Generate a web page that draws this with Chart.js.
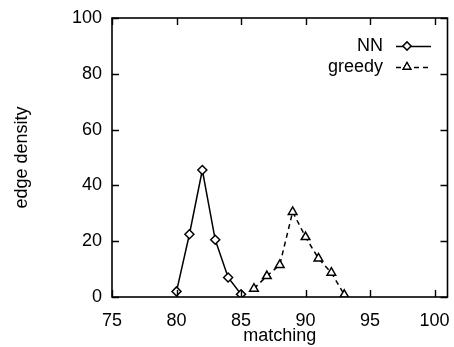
<!DOCTYPE html>
<html>
<head>
<meta charset="utf-8">
<script src="https://cdn.jsdelivr.net/npm/chart.js@4/dist/chart.umd.min.js"></script>
<style>
    html, body { margin: 0; padding: 0; background: #fff; }
    #wrap { width: 454px; height: 347px; }
</style>
</head>
<body>
<div id="wrap"><canvas id="chartMain"></canvas></div>
<script>
const nnX = [80, 81, 82, 83, 84, 85];
const nnY = [2, 22.5, 45.5, 20.5, 7, 1];
const greedyX = [86, 87, 88, 89, 90, 91, 92, 93];
const greedyY = [3, 7.5, 11.5, 30.5, 21.5, 13.8, 8.7, 0.8];
const xTicks = [75, 80, 85, 90, 95, 100];
const yTicks = [0, 20, 40, 60, 80, 100];

const FONT = 'Liberation Sans, Arial, Helvetica, sans-serif';

// gnuplot style frame with inward ticks on all four sides
const framePlugin = {
    id: 'frame',
    afterDatasetsDraw(chart) {
        const { ctx, chartArea: a, scales: { x, y } } = chart;
        ctx.save();
        ctx.strokeStyle = '#000';
        ctx.lineWidth = 1.6;
        ctx.strokeRect(a.left, a.top, a.right - a.left, a.bottom - a.top);
        ctx.lineWidth = 1.4;
        ctx.beginPath();
        const len = 7;
        xTicks.forEach(v => {
            const px = Math.round(x.getPixelForValue(v)) + 0.5;
            ctx.moveTo(px, a.bottom); ctx.lineTo(px, a.bottom - len);
            ctx.moveTo(px, a.top); ctx.lineTo(px, a.top + len);
        });
        yTicks.forEach(v => {
            const py = Math.round(y.getPixelForValue(v)) + 0.5;
            ctx.moveTo(a.left, py); ctx.lineTo(a.left + len, py);
            ctx.moveTo(a.right, py); ctx.lineTo(a.right - len, py);
        });
        ctx.stroke();
        ctx.restore();
    }
};

// legend: label text on the left, line sample with marker on the right
const keyPlugin = {
    id: 'key',
    afterDraw(chart) {
        const { ctx } = chart;
        const rows = [{ y: 46 }, { y: 67 }];
        ctx.save();
        chart.data.datasets.forEach((ds, i) => {
            const ry = rows[i].y;
            ctx.font = '18px ' + FONT;
            ctx.fillStyle = '#000';
            ctx.textAlign = 'right';
            ctx.textBaseline = 'middle';
            ctx.fillText(ds.label, 383, ry);
            ctx.strokeStyle = '#000';
            ctx.lineWidth = 1.3;
            ctx.setLineDash(ds.borderDash || []);
            ctx.beginPath();
            ctx.moveTo(396, ry + 0.5);
            ctx.lineTo(431, ry + 0.5);
            ctx.stroke();
            ctx.setLineDash([]);
            Chart.helpers.drawPoint(ctx, {
                pointStyle: ds.pointStyle, radius: ds.pointRadius - 0.5,
                borderWidth: 1.3
            }, 407, ry);
            ctx.fillStyle = '#fff';
            ctx.fill();
            ctx.stroke();
        });
        ctx.restore();
    }
};

new Chart(document.getElementById('chartMain'), {
    type: 'line',
    data: {
        datasets: [
            {
                label: 'NN',
                data: nnX.map((v, i) => ({ x: v, y: nnY[i] })),
                borderColor: '#000', borderWidth: 1.5,
                pointStyle: 'rectRot', pointRadius: 4.5,
                pointBackgroundColor: '#fff', pointBorderColor: '#000', pointBorderWidth: 1.5,
                tension: 0, fill: false
            },
            {
                label: 'greedy',
                data: greedyX.map((v, i) => ({ x: v, y: greedyY[i] })),
                borderColor: '#000', borderWidth: 1.5, borderDash: [5, 4],
                pointStyle: 'triangle', pointRadius: 5,
                pointBackgroundColor: '#fff', pointBorderColor: '#000', pointBorderWidth: 1.5,
                tension: 0, fill: false
            }
        ]
    },
    options: {
        responsive: true, maintainAspectRatio: false, animation: false,
        layout: { padding: { top: 18, right: 5, left: 0, bottom: 0 } },
        plugins: { legend: { display: false }, tooltip: { enabled: false } },
        scales: {
            x: {
                type: 'linear', min: 75, max: 101,
                afterBuildTicks: s => { s.ticks = xTicks.map(v => ({ value: v })); },
                afterFit: s => { s.height = 50; s.paddingLeft = 0; s.paddingRight = 0; },
                grid: { display: false, drawTicks: false },
                border: { display: false },
                ticks: { color: '#000', padding: 13, maxRotation: 0, font: { family: FONT, size: 18 } },
                title: {
                    display: true, text: 'matching', color: '#000',
                    padding: { top: 0, bottom: 0 }, font: { family: FONT, size: 18 }
                }
            },
            y: {
                type: 'linear', min: 0, max: 100,
                afterBuildTicks: s => { s.ticks = yTicks.map(v => ({ value: v })); },
                afterFit: s => { s.width = 112; s.paddingTop = 0; s.paddingBottom = 0; },
                grid: { display: false, drawTicks: false },
                border: { display: false },
                ticks: { color: '#000', padding: 10, font: { family: FONT, size: 18 } },
                title: {
                    display: true, text: 'edge density', color: '#000',
                    padding: { top: 11, bottom: 0 }, font: { family: FONT, size: 18 }
                }
            }
        }
    },
    plugins: [framePlugin, keyPlugin]
});
</script>
</body>
</html>
